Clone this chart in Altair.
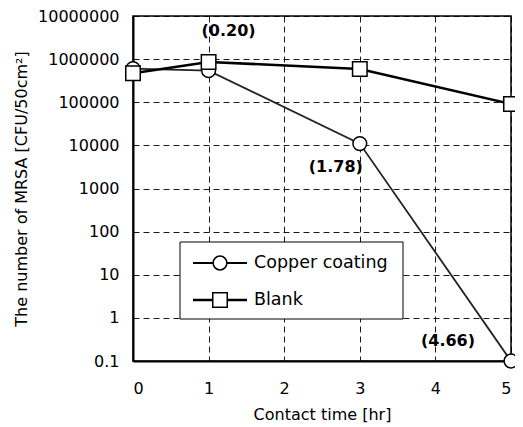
import altair as alt
import pandas as pd

times = [0, 1, 3, 5]
copper = [600000, 540000, 11000, 0.1]
blank = [470000, 860000, 590000, 91000]
series_names = ["Copper coating", "Blank"]
ann_times = [1, 3, 5]
ann_vals = [860000, 11000, 0.1]
ann_text = ["(0.20)", "(1.78)", "(4.66)"]
ann_offsets = [(20, -31), (-24, 23), (-63, -20)]
y_ticks = [0.1, 1, 10, 100, 1000, 10000, 100000, 1000000, 10000000]

FONT = "DejaVu Sans"

df = pd.DataFrame({
    "t": times * 2,
    "v": copper + blank,
    "s": [series_names[0]] * 4 + [series_names[1]] * 4,
})
df_c = df[df.s == series_names[0]]
df_b = df[df.s == series_names[1]]

x = alt.X("t:Q", scale=alt.Scale(domain=[0, 5], nice=False),
          axis=alt.Axis(values=[0, 1, 2, 3, 4, 5], title="Contact time [hr]",
                        format="d", labelPadding=19, titlePadding=10))
y = alt.Y("v:Q", scale=alt.Scale(type="log", domain=[0.1, 10000000], nice=False),
          axis=alt.Axis(values=y_ticks, format="~f",
                        title="The number of MRSA [CFU/50cm²]",
                        labelPadding=14, titlePadding=8))

base_c = alt.Chart(df_c).encode(x=x, y=y)
base_b = alt.Chart(df_b).encode(x=x, y=y)

line_c = base_c.mark_line(color="#222", strokeWidth=1.8)
pts_c = base_c.mark_point(shape="circle", filled=True, fill="white", stroke="black",
                          strokeWidth=1.5, size=190, opacity=1)
line_b = base_b.mark_line(color="black", strokeWidth=2.6)
pts_b = base_b.mark_point(shape="square", filled=True, fill="white", stroke="black",
                          strokeWidth=1.5, size=210, opacity=1)

ann_df = pd.DataFrame({"t": ann_times, "v": ann_vals, "label": ann_text})
ann_layers = []
for i, (dx, dy) in enumerate(ann_offsets):
    ann_layers.append(
        alt.Chart(ann_df.iloc[[i]]).mark_text(
            font=FONT, fontSize=16, fontWeight=600, color="black", dx=dx, dy=dy
        ).encode(x="t:Q", y="v:Q", text="label:N")
    )

# Legend box (decoration)
leg_box = alt.Chart(pd.DataFrame({"a": [0]})).mark_rect(
    fill="white", stroke="black", strokeWidth=1
).encode(x=alt.value(47), x2=alt.value(270), y=alt.value(226), y2=alt.value(303))

leg_df = pd.DataFrame({"s": series_names})
leg_layers = [leg_box]
for i, (name, shape, lw, sz) in enumerate([(series_names[0], "circle", 1.8, 190),
                                            (series_names[1], "square", 2.6, 210)]):
    yy = 247 + i * 37
    d = leg_df.iloc[[i]]
    leg_layers.append(alt.Chart(d).mark_rule(color="black", strokeWidth=lw).encode(
        x=alt.value(60), x2=alt.value(114), y=alt.value(yy)))
    leg_layers.append(alt.Chart(d).mark_point(
        shape=shape, filled=True, fill="white", stroke="black", strokeWidth=1.5,
        size=sz, opacity=1).encode(x=alt.value(87), y=alt.value(yy)))
    leg_layers.append(alt.Chart(d).mark_text(
        font=FONT, fontSize=17.5, align="left", baseline="middle", color="black"
    ).encode(x=alt.value(121), y=alt.value(yy), text="s:N"))

chart = alt.layer(
    line_c, pts_c, line_b, pts_b, *ann_layers, *leg_layers
).properties(
    width=378, height=345,
    autosize=alt.AutoSizeParams(type="none"),
    padding={"left": 125, "top": 8, "right": 4, "bottom": 62},
).configure_view(
    stroke="black", strokeWidth=1.5
).configure_axis(
    grid=True, gridColor="black", gridDash=[6, 4], gridWidth=0.9, gridOpacity=1,
    domainColor="black", domainWidth=2, ticks=False,
    labelFont=FONT, labelFontSize=16, labelColor="black",
    titleFont=FONT, titleFontSize=16, titleFontWeight="normal", titleColor="black",
)

chart.save("out.html", embed_options={"renderer": "svg", "actions": False})
